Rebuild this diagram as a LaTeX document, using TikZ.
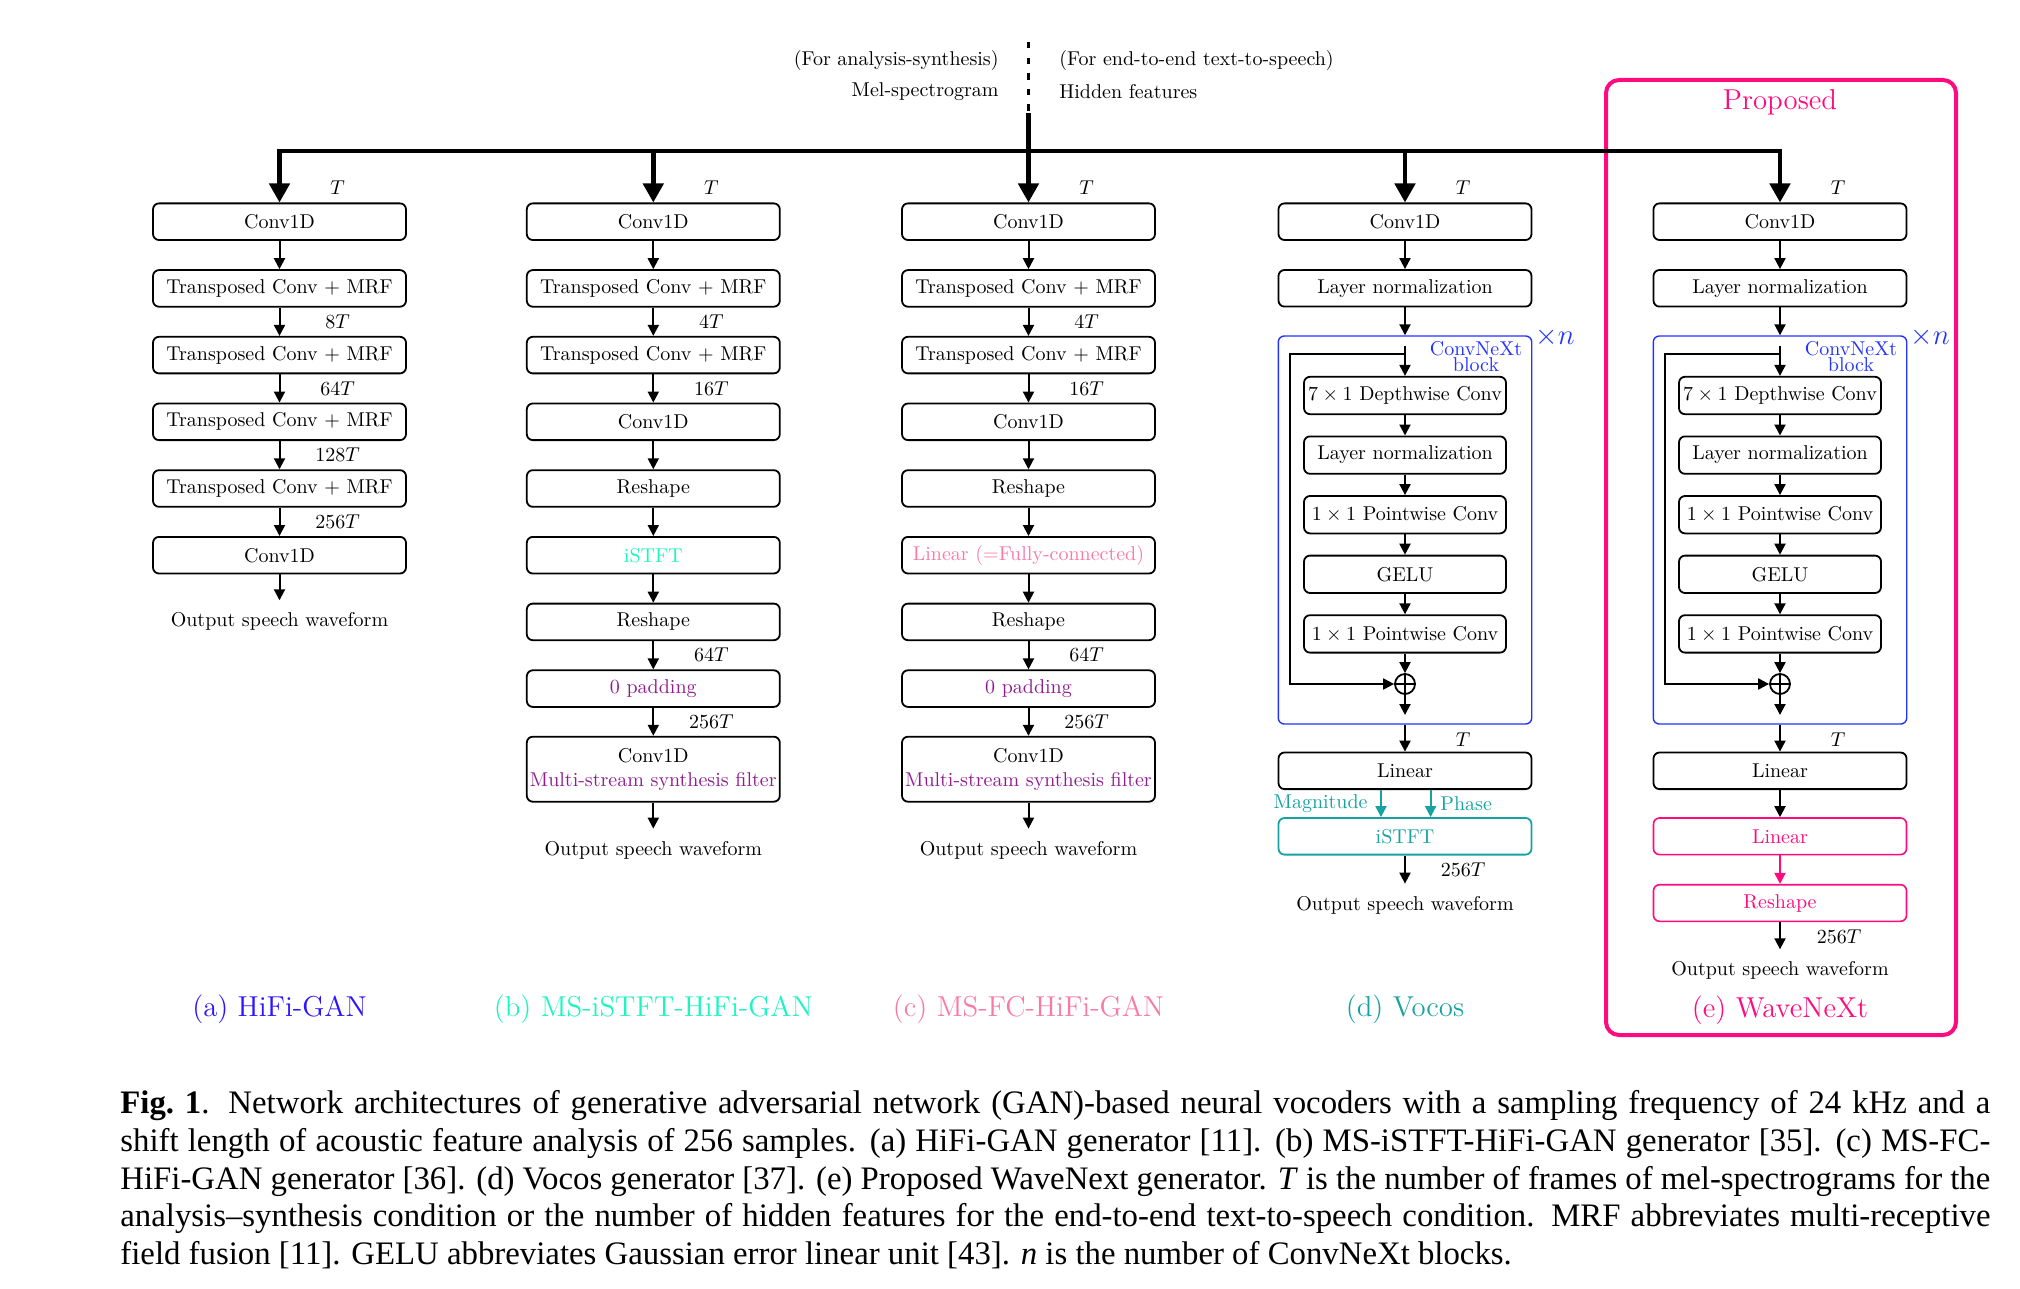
\documentclass[tikz,border=0pt]{standalone}
\usepackage{fontspec}
\usetikzlibrary{arrows.meta}
\newfontfamily\capfont{Liberation Serif}
\definecolor{hifiblue}{HTML}{2B14FF}
\definecolor{istftgreen}{HTML}{1CF5C0}
\definecolor{fcpink}{HTML}{F97BA3}
\definecolor{vocosteal}{HTML}{17A1A1}
\definecolor{wavepink}{HTML}{FF0A7F}
\definecolor{msviolet}{HTML}{8F1B8F}
\definecolor{blockblue}{HTML}{2233FF}

\begin{document}
\begin{tikzpicture}[x=0.5pt,y=-0.5pt,
    blk/.style={draw,rounded corners=3pt,line width=0.9pt,minimum width=126.5pt,
        minimum height=18.3pt,inner xsep=1pt,inner ysep=0pt},
    sub/.style={blk,minimum width=101pt,minimum height=18.7pt},
    frame/.style={draw=blockblue,line width=0.7pt,rounded corners=3pt,
        minimum width=126.7pt,minimum height=194pt,inner sep=0pt},
    oplus/.style={draw,circle,line width=0.9pt,minimum size=10pt,inner sep=0pt,
        path picture={\draw[line width=0.9pt] (path picture bounding box.north) -- (path picture bounding box.south)
            (path picture bounding box.west) -- (path picture bounding box.east);}},
    blockname/.style={align=center,text=blockblue,inner sep=0pt,font=\fontsize{10}{8}\selectfont},
    arr/.style={-{Triangle[length=5.5pt,width=5.5pt]},line width=1pt},
    busline/.style={line width=2.3pt},
    bushead/.tip={Triangle[length=9.5pt,width=10pt]},
    wave/.style={inner xsep=0pt,inner ysep=6pt},
    dim/.style={inner sep=0pt},
    subcap/.style={font=\Large}]
\useasboundingbox (0,0) rectangle (2020,1289);

% input features
\node[dim,anchor=east] (anaA) at (999,60.7) {(For analysis-synthesis)};
\node[dim,anchor=east] (anaB) at (999,91.7) {Mel-spectrogram};
\node[dim,anchor=west] (ttsA) at (1059,60.7) {(For end-to-end text-to-speech)};
\node[dim,anchor=west] (ttsB) at (1059,91.7) {Hidden features};

% (a) HiFi-GAN
\foreach \i/\txt in {1/Conv1D,2/Transposed Conv $+$ MRF,3/Transposed Conv $+$ MRF,
        4/Transposed Conv $+$ MRF,5/Transposed Conv $+$ MRF,6/Conv1D}
    \node[blk] (a\i) at (279.5,{221.7+66.7*(\i-1)}) {\txt};
\node[wave] (aout) at (279.5,621.7) {Output speech waveform};
\foreach \i/\j in {1/2,2/3,3/4,4/5,5/6} \draw[arr] (a\i) -- (a\j);
\draw[arr] (a6) -- (aout);
\foreach \n/\y/\txt in {1/188/T,2/321.7/8T,3/388.3/64T,4/455/128T,5/521.7/256T}
    \node[dim] (al\n) at (337.5,\y) {$\txt$};

% (b) MS-iSTFT-HiFi-GAN and (c) MS-FC-HiFi-GAN
\foreach \col/\x/\midtxt in {b/653.3/{\textcolor{istftgreen}{iSTFT}},
        c/1028.5/{\textcolor{fcpink}{Linear (=Fully-connected)}}}{
    \foreach \i/\txt in {1/Conv1D,2/Transposed Conv $+$ MRF,3/Transposed Conv $+$ MRF,4/Conv1D,
            5/Reshape,6/\midtxt,7/Reshape,8/\textcolor{msviolet}{0 padding}}
        \node[blk] (\col\i) at (\x,{221.7+66.7*(\i-1)}) {\txt};
    \node[blk,minimum height=32.5pt,align=center] (\col9) at (\x,769.2)
        {Conv1D\\\textcolor{msviolet}{Multi-stream synthesis filter}};
    \node[wave] (\col out) at (\x,850) {Output speech waveform};
    \foreach \i/\j in {1/2,2/3,3/4,4/5,5/6,6/7,7/8,8/9} \draw[arr] (\col\i) -- (\col\j);
    \draw[arr] (\col9) -- (\col out);
    \foreach \n/\y/\txt in {1/188/T,2/321.7/4T,3/388.3/16T,4/655/64T,5/722/256T}
        \node[dim] (\col l\n) at ({\x+58},\y) {$\txt$};
}

% (d) Vocos and (e) WaveNeXt: shared ConvNeXt part
\foreach \col/\x in {d/1405,e/1780}{
    \node[blk] (\col1) at (\x,221.7) {Conv1D};
    \node[blk] (\col2) at (\x,288.3) {Layer normalization};
    \node[frame] (\col blk) at (\x,530) {};
    \foreach \i/\txt [count=\k from 0] in {3/{$7\times1$ Depthwise Conv},4/Layer normalization,
            5/{$1\times1$ Pointwise Conv},6/GELU,7/{$1\times1$ Pointwise Conv}}
        \node[sub] (\col\i) at (\x,{395.5+59.6*\k}) {\txt};
    \node[oplus] (\col plus) at (\x,684) {};
    \node[blk] (\col8) at (\x,770.8) {Linear};
    \node[blockname] (\col name) at ({\x+71},357) {ConvNeXt\\block};
    \node[dim,text=blockblue,font=\Large] (\col rep) at ({\x+150},337) {$\times n$};
    \coordinate (\col in) at (\x,345.7);
    \coordinate (\col split) at (\x,354);
    \coordinate (\col end) at (\x,715);
    \draw[arr] (\col1) -- (\col2);
    \draw[arr] (\col2) -- (\col blk);
    \draw[arr] (\col in) -- (\col3);
    \foreach \i/\j in {3/4,4/5,5/6,6/7} \draw[arr] (\col\i) -- (\col\j);
    \draw[arr] (\col7) -- (\col plus);
    \draw[arr] (\col plus) -- (\col end);
    \draw[arr] (\col split) -- ++(-115,0) |- (\col plus);
    \draw[arr] (\col blk) -- (\col8);
    \node[dim] (\col T) at ({\x+58},188) {$T$};
    \node[dim] (\col T2) at ({\x+58},740) {$T$};
}

% (d) output part
\node[blk,draw=vocosteal,text=vocosteal] (d9) at (1405,836.3) {iSTFT};
\draw[arr,vocosteal] ([xshift=-12pt]d8.south) -- ([xshift=-12pt]d9.north);
\draw[arr,vocosteal] ([xshift=12.8pt]d8.south) -- ([xshift=12.8pt]d9.north);
\node[dim,anchor=east,text=vocosteal] (mag) at (1368,804) {Magnitude};
\node[dim,anchor=west,text=vocosteal] (pha) at (1440,804) {Phase};
\node[wave] (dout) at (1405,905) {Output speech waveform};
\draw[arr] (d9) -- (dout);
\node[dim] (d256) at (1463,870) {$256T$};

% (e) output part
\node[blk,draw=wavepink,text=wavepink,line width=0.8pt] (e9) at (1780,836.3) {Linear};
\node[blk,draw=wavepink,text=wavepink,line width=0.8pt] (e10) at (1780,903) {Reshape};
\node[wave] (eout) at (1780,970.7) {Output speech waveform};
\draw[arr] (e8) -- (e9);
\draw[arr,wavepink] (e9) -- (e10);
\draw[arr] (e10) -- (eout);
\node[dim] (e256) at (1839,936.7) {$256T$};
\node[draw=wavepink,line width=2pt,rounded corners=6.5pt,minimum width=175pt,
    minimum height=477.5pt,inner sep=0pt] (prop) at (1781,557.5) {};
\node[text=wavepink,font=\Large] (proptitle) at (1780,102) {Proposed};

% input bus
\coordinate (top) at (1028.5,42);
\coordinate (src) at (1028.5,113);
\coordinate (bus) at (1028.5,151);
\draw[line width=1.8pt,dash pattern=on 3.2pt off 4.6pt] (top) -- (src);
\draw[busline,bushead-bushead] (a1) -- (a1 |- bus) -- (e1 |- bus) -- (e1);
\draw[busline,-bushead] (src) -- (c1);
\foreach \col in {b,d} \draw[busline,-bushead] (\col1 |- bus) -- (\col1);

% sub captions
\node[subcap,text=hifiblue] (capa) at (279.5,1009) {(a) HiFi-GAN};
\node[subcap,text=istftgreen] (capb) at (653.3,1009) {(b) MS-iSTFT-HiFi-GAN};
\node[subcap,text=fcpink] (capc) at (1028.5,1009) {(c) MS-FC-HiFi-GAN};
\node[subcap,text=vocosteal] (capd) at (1405,1009) {(d) Vocos};
\node[subcap,text=wavepink] (cape) at (1780,1010) {(e) WaveNeXt};

\node[anchor=north west,inner sep=0pt,text width=935pt,align=justify,
    font=\capfont\fontsize{16.4}{19}\selectfont] (caption) at (120,1089.5)
    {\textbf{Fig.~1}. Network architectures of generative adversarial network (GAN)-based neural vocoders with a sampling frequency of 24~kHz and a\linebreak
    shift length of acoustic feature analysis of 256 samples. (a) HiFi-GAN generator [11]. (b) MS-iSTFT-HiFi-GAN generator [35]. (c) MS-FC-\linebreak
    HiFi-GAN generator [36]. (d) Vocos generator [37]. (e) Proposed WaveNext generator. \textit{T} is the number of frames of mel-spectrograms for the\linebreak
    analysis–synthesis condition or the number of hidden features for the end-to-end text-to-speech condition. MRF abbreviates multi-receptive\linebreak
    field fusion [11]. GELU abbreviates Gaussian error linear unit [43]. \textit{n} is the number of ConvNeXt blocks.};
\end{tikzpicture}
\end{document}
